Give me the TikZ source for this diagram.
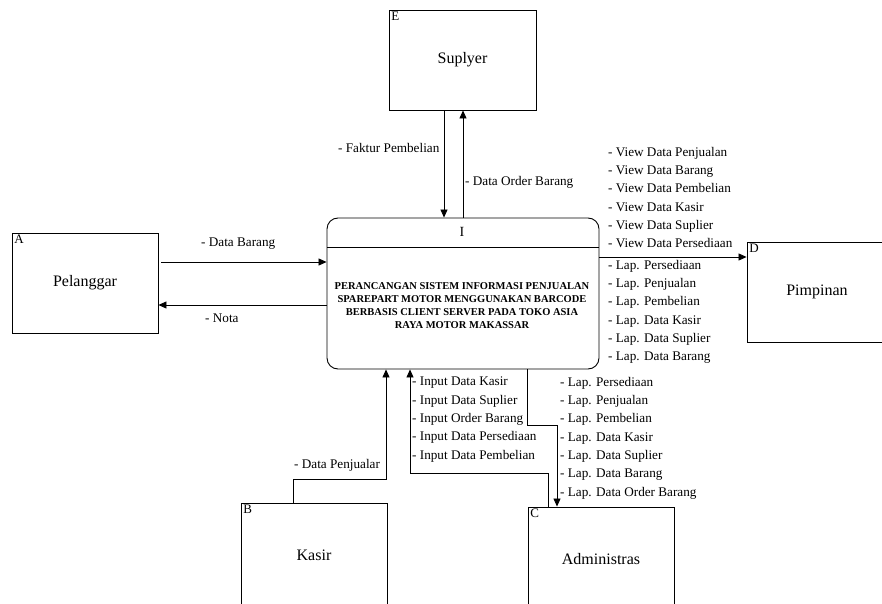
\documentclass[tikz,border=0pt]{standalone}
\usepackage{fontspec}
\setmainfont{Liberation Serif}
\usetikzlibrary{arrows.meta}
\begin{document}
\begin{tikzpicture}[x=1pt,y=-1pt,
  ent/.style={draw, line width=0.9pt, minimum width=146pt, minimum height=100pt, inner sep=0pt, font=\fontsize{16}{18}\selectfont},
  lett/.style={anchor=north west, inner sep=2.5pt, font=\fontsize{13}{14}\selectfont},
  arr/.style={line width=0.8pt, -{Triangle[length=8pt,width=7pt]}},
  ln/.style={line width=0.8pt},
  lst/.style={anchor=north west, align=left, inner sep=0pt, font=\fontsize{13.2}{18.3}\selectfont}]
\useasboundingbox (0,0) rectangle (882,604);
\clip (0,0) rectangle (882,604);
% entities
\node[ent, minimum width=147pt] (sup) at (462.5,60) {Suplyer};
\node[lett] (supl) at (sup.north west) {E};
\node[ent] (pel) at (85,283) {Pelanggar};
\node[lett] (pell) at (pel.north west) {A};
\node[ent, minimum width=140pt, text width=132pt, align=center] (pim) at (817,292) {Pimpinan};
\node[lett] (piml) at (pim.north west) {D};
\node[ent, minimum height=104pt] (kas) at (314,555) {Kasir};
\node[lett] (kasl) at (kas.north west) {B};
\node[ent, minimum height=104pt] (adm) at (601,559) {Administras};
\node[lett] (adml) at (adm.north west) {C};
% process
\node[draw, line width=0.9pt, rounded corners=11pt, minimum width=272pt, minimum height=151pt, inner sep=0pt] (proc) at (463,293.5) {};
\coordinate (divl) at (327,247);
\coordinate (divr) at (599,247);
\draw[ln] (divl) -- (divr);
\node[font=\fontsize{14}{16}\selectfont] (pid) at (462,232) {I};
\node[align=center, font=\fontsize{10.5}{13}\selectfont\bfseries] (ptxt) at (462,306)
 {PERANCANGAN SISTEM INFORMASI PENJUALAN\\SPAREPART MOTOR MENGGUNAKAN BARCODE\\BERBASIS CLIENT SERVER PADA TOKO ASIA\\RAYA MOTOR MAKASSAR};
% supplier connectors
\draw[arr] (sup.south -| 444,0) -- (proc.north -| 444,0);
\draw[arr] (proc.north -| 463,0) -- (sup.south -| 463,0);
\node[lst] (lfak) at (338,143) {- Faktur Pembelian};
\node[lst] (ldor) at (465,176) {- Data Order Barang};
% pelanggan connectors
\draw[arr] ([xshift=3pt]pel.east |- 0,262) -- (proc.west |- 0,262);
\draw[arr] (proc.west |- 0,305) -- (pel.east |- 0,305);
\node[lst] (ldb) at (201,238) {- Data Barang};
\node[lst] (lnota) at (205,314) {- Nota};
% pimpinan connector
\draw[arr] (proc.east |- 0,257) -- (pim.west |- 0,257);
\node[lst] (lview) at (608,147) {- View Data Penjualan\\- View Data Barang\\- View Data Pembelian\\- View Data Kasir\\- View Data Suplier\\- View Data Persediaan};
\node[lst] (llap1) at (608,260) {- Lap. Persediaan\\- Lap. Penjualan\\- Lap. Pembelian\\- Lap. Data Kasir\\- Lap. Data Suplier\\- Lap. Data Barang};
% kasir connector
\coordinate (k1) at (293,479);
\coordinate (k2) at (386,479);
\draw[arr] (kas.north -| k1) -- (k1) -- (k2) -- (proc.south -| k2);
\node[lst] (lpenj) at (294,459) {- Data Penjualar};
% admin -> process
\coordinate (a1) at (548,473);
\coordinate (a2) at (410,473);
\draw[arr] (adm.north -| a1) -- (a1) -- (a2) -- (proc.south -| a2);
\node[lst] (linput) at (412,377) {- Input Data Kasir\\- Input Data Suplier\\- Input Order Barang\\- Input Data Persediaan\\- Input Data Pembelian};
% process -> admin
\coordinate (p1) at (527,425);
\coordinate (p2) at (557,425);
\draw[arr] (proc.south -| p1) -- (p1) -- (p2) -- (adm.north -| p2);
\node[lst] (llap2) at (560,377) {- Lap. Persediaan\\- Lap. Penjualan\\- Lap. Pembelian\\- Lap. Data Kasir\\- Lap. Data Suplier\\- Lap. Data Barang\\- Lap. Data Order Barang};
\end{tikzpicture}
\end{document}
